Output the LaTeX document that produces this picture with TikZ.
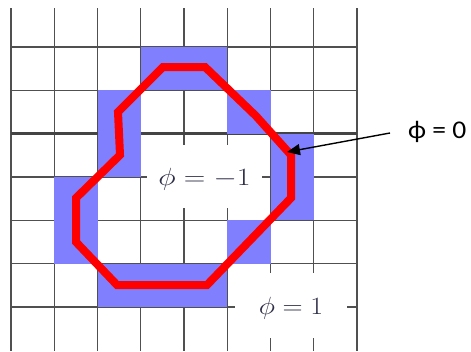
\documentclass[tikz,border=0pt]{standalone}
\usepackage{fontspec}
\usepackage{graphicx}
\newfontfamily\carlito{Carlito}
\usetikzlibrary{arrows.meta}
\definecolor{gridgray}{HTML}{505050}
\definecolor{cellblue}{HTML}{8080FF}
\definecolor{labelink}{HTML}{2E2E48}
\tikzset{
  gridline/.style={draw=gridgray, line width=1.3pt},
  heavyline/.style={draw=gridgray!85!black, line width=2.4pt},
  bluecell/.style={fill=cellblue, draw=none},
  whitebox/.style={fill=white, draw=none},
  levelset/.style={draw=red, line width=8pt, line join=miter},
  mathlabel/.style={inner sep=0pt, text=labelink, font=\fontsize{28.5}{34}\selectfont},
  sidelabel/.style={inner sep=0pt, text=black, font=\carlito\fontsize{25.5}{30}\selectfont},
  pointer/.style={draw=black, line width=1.4pt, -{Triangle[length=13pt,width=11pt]}}
}
\begin{document}
\begin{tikzpicture}[x=1pt,y=-1pt]
\useasboundingbox (0,0) rectangle (471,351);
% grid
\foreach \i in {0,...,8} {
  \draw[gridline] ({11+43.25*\i},8) -- ({11+43.25*\i},351);
}
\foreach \j in {0,...,6} {
  \draw[gridline] (11,{47+43.33*\j}) -- (357,{47+43.33*\j});
}
\draw[heavyline] (11,{47+2*43.33}) -- (357,{47+2*43.33});
% blue cells
\foreach \c/\r in {3/0,4/0,2/1,5/1,2/2,6/2,1/3,6/3,1/4,5/4,2/5,3/5,4/5} {
  \fill[bluecell] ({11+43.25*\c},{47+43.33*\r}) rectangle ({11+43.25*(\c+1)},{47+43.33*(\r+1)});
}
% white label backgrounds
\fill[whitebox] (147,145) rectangle (262,208);
\fill[whitebox] (235,273) rectangle (347,338);
% zero level set
\draw[levelset] (163,67) -- (205,67) -- (256,116) -- (291,155) -- (291,198) -- (207,285)
  -- (117,285) -- (76,242) -- (76,198) -- (120,155) -- (118,112) -- cycle;
% labels
\node[mathlabel, anchor=base] (phiin) at (204.5,185) {\scalebox{1.2}[1]{$\phi=-1$}};
\node[mathlabel, anchor=base] (phiout) at (291,314) {\scalebox{1.12}[1]{$\phi=1$}};
\node[sidelabel, anchor=base west] (phi0) at (408,138) {\scalebox{1.08}[1]{ϕ = 0}};
\coordinate (astart) at (390,133);
\coordinate (atip) at (287,152);
\draw[pointer] (astart) -- (atip);
\end{tikzpicture}
\end{document}
